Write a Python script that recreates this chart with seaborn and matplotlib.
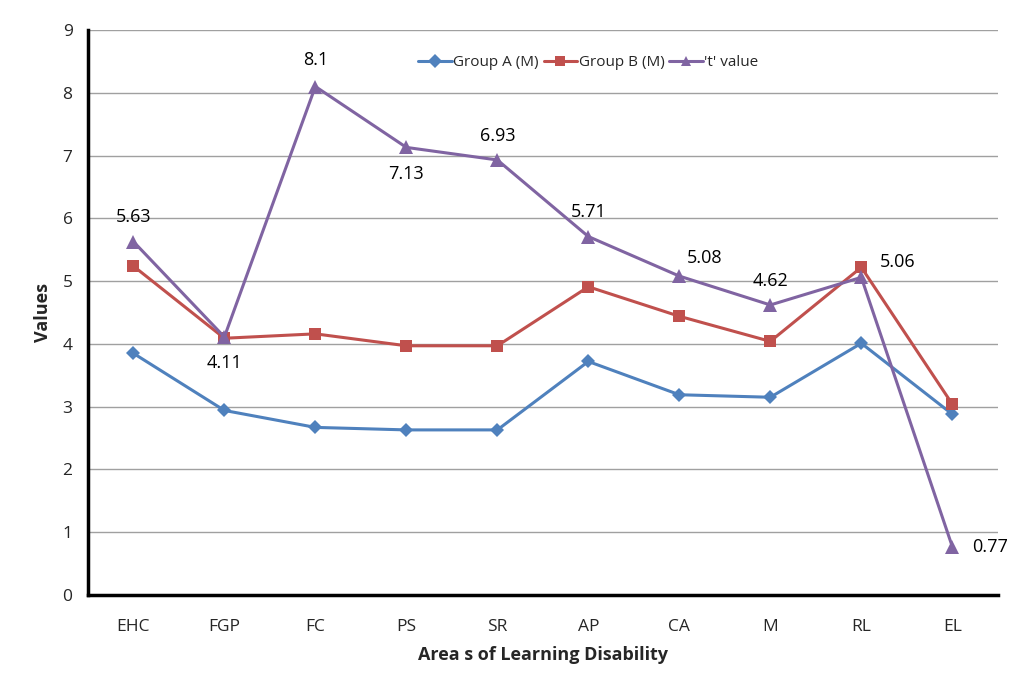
import pandas as pd
import matplotlib
matplotlib.use('Agg')
import matplotlib.pyplot as plt
import seaborn as sns

areas = ['EHC', 'FGP', 'FC', 'PS', 'SR', 'AP', 'CA', 'M', 'RL', 'EL']
group_a = [3.85, 2.94, 2.67, 2.63, 2.63, 3.72, 3.19, 3.15, 4.01, 2.88]
group_b = [5.24, 4.09, 4.16, 3.97, 3.97, 4.91, 4.44, 4.04, 5.22, 3.04]
t_value = [5.63, 4.11, 8.1, 7.13, 6.93, 5.71, 5.08, 4.62, 5.06, 0.77]
t_labels = ['5.63', '4.11', '8.1', '7.13', '6.93', '5.71', '5.08', '4.62', '5.06', '0.77']

series_names = ['Group A (M)', 'Group B (M)', "'t' value"]
colors = ['#4F81BD', '#C0504D', '#8064A2']
markers = ['D', 's', '^']
# label offsets in points (dx, dy)
label_offsets = [(0, 18), (0, -19), (0, 19), (0, -19), (0, 17), (0, 18), (18, 13), (0, 17), (26, 11), (27, 0)]

sns.set_style('white')
plt.rcParams['font.family'] = ['Open Sans', 'DejaVu Sans']

rows = []
for name, vals in zip(series_names, [group_a, group_b, t_value]):
    for i, v in enumerate(vals):
        rows.append({'pos': i, 'Area': areas[i], 'Value': v, 'Series': name})
df = pd.DataFrame(rows)

fig = plt.figure(figsize=(10.34, 6.79), dpi=100)
ax = fig.add_axes([0.085, 0.1237, 0.88, 0.8321])

sns.lineplot(data=df, x='pos', y='Value', hue='Series', style='Series',
             palette=dict(zip(series_names, colors)),
             markers=dict(zip(series_names, markers)),
             dashes=False, linewidth=2.2, markersize=8.5,
             markeredgewidth=0, ax=ax)
ax.lines[0].set_markersize(7)
ax.lines[2].set_markersize(10)

for i, (v, lab) in enumerate(zip(t_value, t_labels)):
    dx, dy = label_offsets[i]
    ax.annotate(lab, (i, v), xytext=(dx, dy), textcoords='offset points',
                ha='center', va='center', fontsize=13, color='black')

ax.set_xlim(-0.5, len(areas) - 0.5)
ax.set_ylim(0, 9)
ax.set_yticks(range(0, 10))
ax.set_xticks(range(len(areas)))
ax.set_xticklabels(areas)
ax.set_xticks([i - 0.5 for i in range(len(areas) + 1)], minor=True)
ax.tick_params(axis='x', which='major', length=0, pad=17, labelsize=12.5)
ax.tick_params(axis='x', which='minor', length=5, width=2, direction='out')
ax.tick_params(axis='y', length=5, width=2, direction='out', labelsize=12.5, pad=6)

ax.yaxis.grid(True, color='#a0a0a0', linewidth=1)
ax.set_axisbelow(True)
for side in ['top', 'right']:
    ax.spines[side].set_visible(False)
for side in ['left', 'bottom']:
    ax.spines[side].set_linewidth(2.5)
    ax.spines[side].set_color('black')

ax.set_xlabel('Area s of Learning Disability', fontsize=13, fontweight='bold', labelpad=8)
ax.set_ylabel('Values', fontsize=13, fontweight='bold', labelpad=8)

leg = ax.legend(loc='upper center', bbox_to_anchor=(0.55, 0.98), ncol=3, frameon=False,
                fontsize=11, handlelength=2.2, handletextpad=0.1, columnspacing=0.3,
                markerscale=0.85)

fig.savefig('out.png', dpi=100)
